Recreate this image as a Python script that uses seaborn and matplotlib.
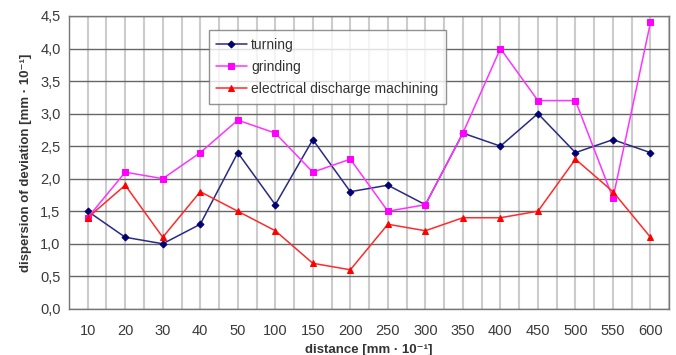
import pandas as pd
import matplotlib.pyplot as plt
import matplotlib.ticker as mticker
import seaborn as sns

distance = ['10', '20', '30', '40', '50', '100', '150', '200', '250', '300',
            '350', '400', '450', '500', '550', '600']
turning = [1.5, 1.1, 1.0, 1.3, 2.4, 1.6, 2.6, 1.8, 1.9, 1.6, 2.7, 2.5, 3.0, 2.4, 2.6, 2.4]
grinding = [1.4, 2.1, 2.0, 2.4, 2.9, 2.7, 2.1, 2.3, 1.5, 1.6, 2.7, 4.0, 3.2, 3.2, 1.7, 4.4]
edm = [1.4, 1.9, 1.1, 1.8, 1.5, 1.2, 0.7, 0.6, 1.3, 1.2, 1.4, 1.4, 1.5, 2.3, 1.8, 1.1]

series = {'turning': turning, 'grinding': grinding,
          'electrical discharge machining': edm}
df = pd.concat([pd.DataFrame({'distance': distance, 'value': v, 'process': k})
                for k, v in series.items()], ignore_index=True)

sns.set_style('white')
plt.rcParams['font.family'] = ['Liberation Sans', 'DejaVu Sans']

colors = {'turning': '#2a2a85', 'grinding': '#ff33ff',
          'electrical discharge machining': '#ff2a2a'}
mcolors = {'turning': '#000070', 'grinding': '#ff00ff',
           'electrical discharge machining': '#ff0000'}
markers = {'turning': 'D', 'grinding': 's', 'electrical discharge machining': '^'}
msizes = {'turning': 3.5, 'grinding': 4.5, 'electrical discharge machining': 4.5}

fig, ax = plt.subplots(figsize=(6.76, 3.55), dpi=100)
fig.subplots_adjust(left=0.102, right=0.99, top=0.955, bottom=0.13)

for name in series:
    sns.lineplot(data=df[df['process'] == name], x='distance', y='value',
                 sort=False, color=colors[name], marker=markers[name],
                 markersize=msizes[name], markerfacecolor=mcolors[name],
                 markeredgecolor=mcolors[name], linewidth=1.1,
                 label=name, ax=ax, zorder=3)

ax.set_xlim(-0.5, len(distance) - 0.5)
ax.set_ylim(0, 4.5)
ax.yaxis.set_major_locator(mticker.MultipleLocator(0.5))
ax.yaxis.set_major_formatter(mticker.FuncFormatter(lambda v, p: f'{v:.1f}'.replace('.', ',')))
ax.xaxis.set_minor_locator(mticker.FixedLocator([i - 0.5 for i in range(len(distance) + 1)]))

ax.grid(axis='y', which='major', color='#666666', linewidth=1.0, zorder=0)
ax.grid(axis='x', which='major', color='#cccccc', linewidth=1.5, zorder=0)
ax.grid(axis='x', which='minor', color='#cccccc', linewidth=1.5, zorder=0)
ax.set_axisbelow(True)

ax.tick_params(axis='x', which='major', length=0, labelsize=10.5, pad=11)
ax.tick_params(axis='x', which='minor', length=4, color='#666666', direction='out')
ax.tick_params(axis='y', length=4, color='#666666', direction='out', labelsize=10.5, pad=2)
ax.tick_params(axis='both', labelcolor='#3a3a3a')

for s in ax.spines.values():
    s.set_color('#777777')
    s.set_linewidth(1.0)

ax.set_xlabel('distance [mm · 10⁻¹]', fontweight='bold', fontsize=9.5, color='#333333', labelpad=4)
ax.set_ylabel('dispersion of deviation [mm · 10⁻¹]', fontweight='bold', fontsize=9.5,
              color='#333333', labelpad=6)

leg = ax.legend(loc='upper left', bbox_to_anchor=(0.221, 0.976), frameon=True,
                fancybox=False, edgecolor='#777777', fontsize=10,
                handlelength=2.2, handletextpad=0.3, borderpad=0.55, labelspacing=0.6)
leg.get_frame().set_linewidth(1.0)
for t in leg.get_texts():
    t.set_color('#333333')

fig.savefig('out.png', dpi=100)
